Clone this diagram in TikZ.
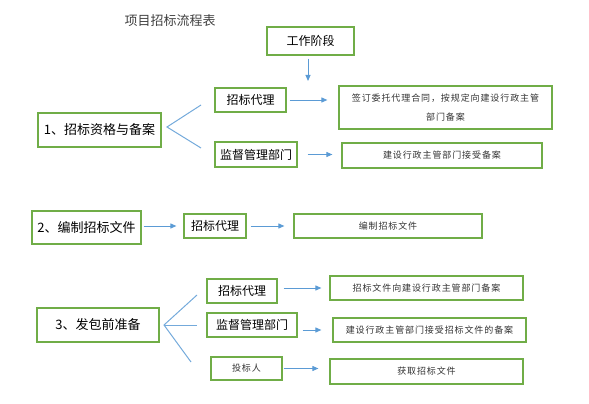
\documentclass[tikz,border=0pt]{standalone}
\usepackage{fontspec}
\setmainfont{Noto Sans CJK SC}
\newfontfamily\taskfont[LetterSpace=10]{Noto Sans CJK SC}
\usetikzlibrary{arrows.meta}
\definecolor{boxgreen}{RGB}{112,173,71}
\definecolor{lineblue}{RGB}{91,155,213}
\definecolor{titlegray}{RGB}{64,64,64}
\begin{document}
\begin{tikzpicture}[x=1pt, y=-1pt,
		stagebox/.style={draw=boxgreen, line width=1.2pt, inner sep=0pt, font=\fontsize{13}{15}\selectfont},
		rolebox/.style={draw=boxgreen, line width=1.2pt, inner sep=0pt, font=\fontsize{12}{14}\selectfont},
		taskbox/.style={draw=boxgreen, line width=1.2pt, inner sep=0pt, align=center, text=black!80, font=\taskfont\fontsize{9}{19}\selectfont},
		flow/.style={draw=lineblue, line width=1pt, -{Triangle[length=6pt,width=5pt]}},
		fork/.style={draw=lineblue!85, line width=1pt}]
		\useasboundingbox (0,0) rectangle (589,404);

		\node [text=titlegray, font=\fontsize{13}{15}\selectfont] (title) at (170,21) {项目招标流程表};

		\node [rolebox, minimum width=87pt, minimum height=28pt] (work) at (310.5,41) {工作阶段};
		\coordinate (workend) at (308,81);
		\draw [flow, shorten <=3pt] (work.south -| workend) -- (workend);

		\node [stagebox, minimum width=123pt, minimum height=34pt] (stage1) at (99.5,130) {1、招标资格与备案};
		\node [rolebox, minimum width=71pt, minimum height=24pt] (agent1) at (250.5,100) {招标代理};
		\node [rolebox, minimum width=82pt, minimum height=25pt] (super1) at (256,154.5) {监督管理部门};
		\node [taskbox, minimum width=213pt, minimum height=43pt] (task1) at (445.5,107.5) {签订委托代理合同，按规定向建设行政主管\\部门备案};
		\node [taskbox, minimum width=200pt, minimum height=25pt] (task2) at (442,155.5) {建设行政主管部门接受备案};

		\coordinate (fork1) at (167,127);
		\coordinate (fork1a) at (201,105);
		\coordinate (fork1b) at (201,148);
		\draw [fork] (fork1a) -- (fork1) -- (fork1b);
		\draw [flow, shorten <=3pt, shorten >=11pt] (agent1.east) -- (agent1.east -| task1.west);
		\draw [flow, shorten <=10pt, shorten >=9pt] (super1.east) -- (super1.east -| task2.west);

		\node [stagebox, minimum width=109pt, minimum height=33pt] (stage2) at (86.5,227.5) {2、编制招标文件};
		\node [rolebox, minimum width=62pt, minimum height=24pt] (agent2) at (215,226) {招标代理};
		\node [taskbox, minimum width=188pt, minimum height=24pt] (task3) at (388,226) {编制招标文件};

		\draw [flow, shorten <=2pt, shorten >=7pt] (stage2.east |- agent2.west) -- (agent2.west);
		\draw [flow, shorten <=4pt, shorten >=9pt] (agent2.east) -- (task3.west);

		\node [stagebox, minimum width=122pt, minimum height=34pt] (stage3) at (98,325) {3、发包前准备};
		\node [rolebox, minimum width=70pt, minimum height=24pt] (agent3) at (242,291) {招标代理};
		\node [rolebox, minimum width=90pt, minimum height=24pt] (super3) at (252,325) {监督管理部门};
		\node [taskbox, minimum width=71pt, minimum height=23pt] (bidder3) at (246.5,368.5) {投标人};
		\node [taskbox, minimum width=193pt, minimum height=24pt] (task4) at (426.5,288) {招标文件向建设行政主管部门备案};
		\node [taskbox, minimum width=193pt, minimum height=24pt] (task5) at (429.5,330) {建设行政主管部门接受招标文件的备案};
		\node [taskbox, minimum width=193pt, minimum height=25pt] (task6) at (426.5,371.5) {获取招标文件};

		\coordinate (fork3) at (164,325);
		\coordinate (fork3a) at (197,295);
		\coordinate (fork3b) at (197,325);
		\coordinate (fork3c) at (191,362);
		\draw [fork] (fork3a) -- (fork3) -- (fork3c);
		\draw [fork] (fork3) -- (fork3b);
		\draw [flow, shorten <=6pt, shorten >=8pt] (agent3.east |- task4.west) -- (task4.west);
		\draw [flow, shorten <=5pt, shorten >=11pt] (super3.east |- task5.west) -- (task5.west);
		\draw [flow, shorten <=1pt, shorten >=11pt] (bidder3.east) -- (bidder3.east -| task6.west);
	\end{tikzpicture}
\end{document}
